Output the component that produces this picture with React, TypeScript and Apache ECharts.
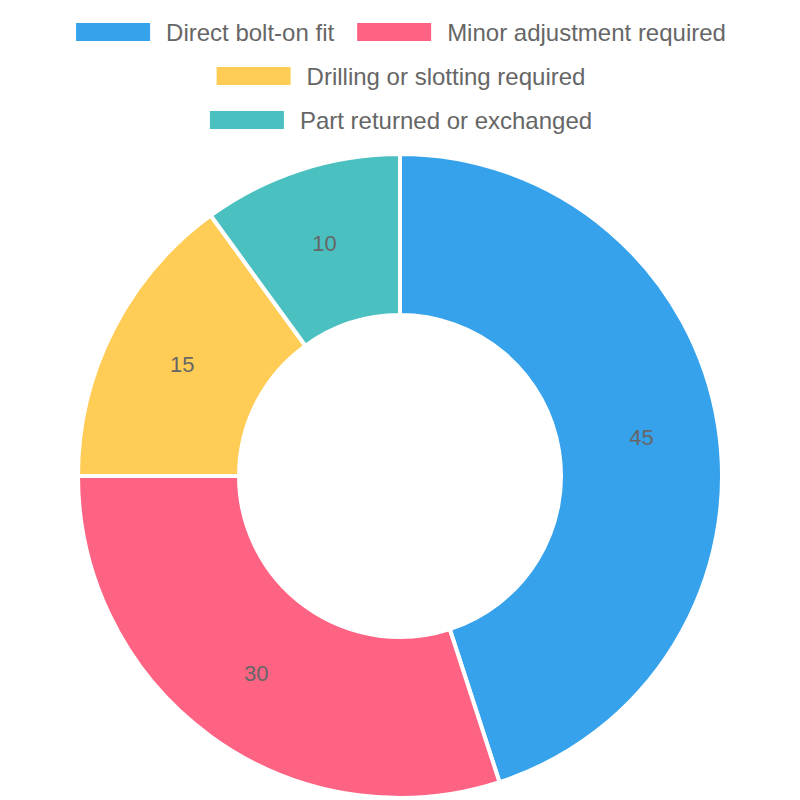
import { useEffect, useRef } from 'react';
import * as echarts from 'echarts';

const categories = [
  'Direct bolt-on fit',
  'Minor adjustment required',
  'Drilling or slotting required',
  'Part returned or exchanged',
];
const values = [45, 30, 15, 10];
const colors = ['#36A2EB', '#FF6384', '#FFCD56', '#4BC0C0'];

// legend rows as in the reference
const legendRows = [
  [categories[0], categories[1]],
  [categories[2]],
  [categories[3]],
];

const FONT = '"Liberation Sans", Arial, Helvetica, sans-serif';

export default function App() {
  const chartRef = useRef<HTMLDivElement>(null);

  useEffect(() => {
    if (!chartRef.current) return;
    const chart = echarts.init(chartRef.current, undefined, { renderer: 'svg' });

    const option: echarts.EChartsOption = {
      animation: false,
      color: colors,
      legend: legendRows.map((row, i) => ({
        data: row,
        top: 20 + i * 44,
        left: 'center',
        padding: 0,
        itemWidth: 76,
        itemHeight: 20,
        itemGap: 21,
        icon: 'rect',
        selectedMode: false,
        textStyle: {
          color: '#666',
          fontSize: 24,
          fontFamily: FONT,
          padding: [0, 0, 0, 10],
        },
      })),
      series: [
        {
          type: 'pie',
          center: [400, 476],
          radius: [161, 322],
          startAngle: 90,
          clockwise: true,
          avoidLabelOverlap: false,
          itemStyle: { borderColor: '#fff', borderWidth: 4 },
          label: {
            show: true,
            position: 'inside',
            formatter: '{c}',
            color: '#666',
            fontSize: 22,
            fontFamily: FONT,
          },
          labelLine: { show: false },
          emphasis: { disabled: true },
          data: categories.map((name, i) => ({ name, value: values[i] })),
        },
      ],
    };
    chart.setOption(option);

    return () => {
      chart.dispose();
    };
  }, []);

  return (
    <div
      ref={chartRef}
      style={{ position: 'absolute', left: 0, top: 0, width: 800, height: 800 }}
    />
  );
}
